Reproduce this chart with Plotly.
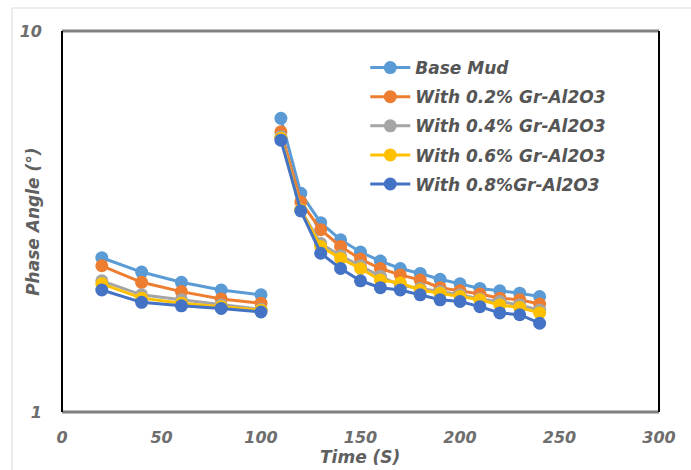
import plotly.graph_objects as go

time_1 = [20, 40, 60, 80, 100]
time_2 = [110, 120, 130, 140, 150, 160, 170, 180, 190, 200, 210, 220, 230, 240]

names = ["Base Mud", "With 0.2% Gr-Al2O3", "With 0.4% Gr-Al2O3",
         "With 0.6% Gr-Al2O3", "With 0.8%Gr-Al2O3"]
colors = ["#5B9BD5", "#ED7D31", "#A5A5A5", "#FFC000", "#4472C4"]

base_mud_1 = [2.54, 2.33, 2.19, 2.09, 2.03]
base_mud_2 = [5.90, 3.75, 3.14, 2.83, 2.63, 2.49, 2.38, 2.31, 2.23, 2.17, 2.11, 2.08, 2.05, 2.01]
gr02_1 = [2.42, 2.19, 2.07, 1.98, 1.93]
gr02_2 = [5.44, 3.56, 3.01, 2.72, 2.52, 2.38, 2.29, 2.22, 2.12, 2.08, 2.04, 1.99, 1.97, 1.92]
gr04_1 = [2.21, 2.03, 1.97, 1.91, 1.86]
gr04_2 = [5.28, 3.39, 2.77, 2.57, 2.42, 2.27, 2.15, 2.11, 2.07, 2.03, 1.98, 1.95, 1.91, 1.85]
gr06_1 = [2.17, 1.99, 1.93, 1.89, 1.85]
gr06_2 = [5.23, 3.39, 2.72, 2.53, 2.38, 2.22, 2.18, 2.09, 2.05, 2.01, 1.97, 1.91, 1.88, 1.82]
gr08_1 = [2.09, 1.94, 1.90, 1.87, 1.83]
gr08_2 = [5.17, 3.37, 2.61, 2.38, 2.21, 2.12, 2.09, 2.03, 1.97, 1.95, 1.89, 1.82, 1.80, 1.71]

series = [(base_mud_1, base_mud_2), (gr02_1, gr02_2), (gr04_1, gr04_2),
          (gr06_1, gr06_2), (gr08_1, gr08_2)]

x_tick_vals = [0, 50, 100, 150, 200, 250, 300]
y_tick_vals = [1, 10]

fig = go.Figure()
for i, (name, color, (s1, s2)) in enumerate(zip(names, colors, series)):
    fig.add_trace(go.Scatter(
        x=time_1 + [None] + time_2,
        y=s1 + [None] + s2,
        name=name,
        legendgroup=f"g{i}",
        mode="lines+markers",
        connectgaps=False,
        line=dict(color=color, width=3),
        marker=dict(color=color, size=13),
    ))

font_family = "DejaVu Sans"
tick_font = dict(family=font_family, size=16, color="#6E6E6E", style="italic", weight="bold")
title_font = dict(family=font_family, size=17, color="#606060", style="italic", weight="bold")

fig.update_layout(
    width=691, height=470,
    margin=dict(l=62, r=32, t=31, b=58),
    paper_bgcolor="white", plot_bgcolor="white",
    showlegend=True,
    legend=dict(
        x=0.508, y=0.95, xanchor="left", yanchor="top",
        font=dict(family=font_family, size=17, color="#555555", style="italic", weight="bold"),
        bgcolor="rgba(0,0,0,0)", tracegroupgap=4, itemwidth=40,
    ),
    xaxis=dict(
        range=[0, 300], tickvals=x_tick_vals, showgrid=False, zeroline=False,
        showline=False, ticks="", tickfont=tick_font, ticklabelstandoff=14,
    ),
    yaxis=dict(
        type="log", range=[0, 1], tickvals=y_tick_vals, showgrid=False, zeroline=False,
        showline=False, ticks="", tickfont=tick_font, ticklabelstandoff=19,
    ),
    annotations=[
        dict(text="Time (S)", xref="paper", yref="paper", x=0.499, y=-0.118,
             xanchor="center", yanchor="middle", showarrow=False, font=title_font),
        dict(text="Phase Angle (°)", xref="paper", yref="paper", x=-0.0486, y=0.499,
             xanchor="center", yanchor="middle", showarrow=False, textangle=-90,
             font=title_font),
    ],
    shapes=[
        dict(type="line", xref="paper", yref="paper", x0=0, x1=1, y0=1, y1=1,
             line=dict(color="#7F7F7F", width=3)),
        dict(type="line", xref="paper", yref="paper", x0=0, x1=1, y0=0, y1=0,
             line=dict(color="#7F7F7F", width=3)),
        dict(type="line", xref="paper", yref="paper", x0=0, x1=0, y0=0, y1=1,
             line=dict(color="#000000", width=2)),
        dict(type="line", xref="paper", yref="paper", x0=1, x1=1, y0=0, y1=1,
             line=dict(color="#000000", width=2)),
        dict(type="line", xref="paper", yref="paper", x0=-50/597, x1=32/597 + 1,
             y0=1 + 23/381, y1=1 + 23/381, line=dict(color="#D9D9D9", width=1)),
        dict(type="line", xref="paper", yref="paper", x0=-50/597, x1=-50/597,
             y0=-58/381, y1=1 + 23/381, line=dict(color="#D9D9D9", width=1)),
    ],
)

fig.write_html("out.html")
